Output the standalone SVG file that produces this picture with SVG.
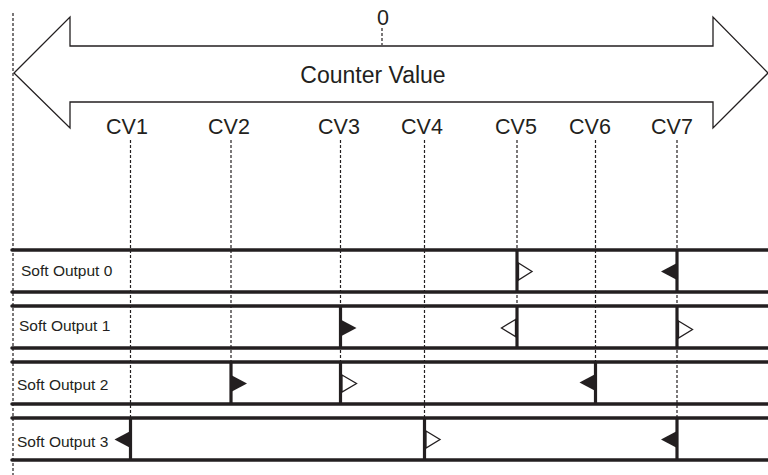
<svg xmlns="http://www.w3.org/2000/svg" width="768" height="475" viewBox="0 0 768 475">
<style>
  text { font-family: "Liberation Sans", Arial, sans-serif; fill: #231f20; }
  .cv { font-size: 21.5px; text-anchor: middle; }
  .lbl { font-size: 15.5px; }
  .dash { stroke: #231f20; stroke-width: 1.2; stroke-dasharray: 3 2; fill: none; }
  .rail { stroke: #231f20; stroke-width: 3.5; stroke-linecap: round; fill: none; }
  .edge { stroke: #231f20; stroke-width: 3.2; fill: none; }
  .ff { fill: #231f20; stroke: none; }
  .fo { fill: #ffffff; stroke: #231f20; stroke-width: 1.3; stroke-linejoin: miter; }
</style>
<rect width="768" height="475" fill="#ffffff"/>

<g id="counter-arrow">
  <polygon points="14,73 70,17 70,46 713,46 713,17 768,73 713,128 713,102 70,102 70,128" fill="#ffffff" stroke="#231f20" stroke-width="1.3" stroke-linejoin="miter"/>
  <text x="383" y="25" class="cv">0</text>
  <line x1="382" y1="28" x2="382" y2="45" class="dash"/>
  <text x="373" y="83" style="font-size:23px;text-anchor:middle">Counter Value</text>
</g>

<g id="cv-labels">
  <text x="127" y="134" class="cv">CV1</text>
  <text x="229" y="134" class="cv">CV2</text>
  <text x="339" y="134" class="cv">CV3</text>
  <text x="422" y="134" class="cv">CV4</text>
  <text x="516" y="134" class="cv">CV5</text>
  <text x="590" y="134" class="cv">CV6</text>
  <text x="672" y="134" class="cv">CV7</text>
</g>

<g id="connectors">
  <line x1="13" y1="13" x2="13" y2="475" class="dash"/>
  <line x1="130.5" y1="140" x2="130.5" y2="418" class="dash"/>
  <line x1="231" y1="140" x2="231" y2="362" class="dash"/>
  <line x1="340.5" y1="140" x2="340.5" y2="404" class="dash"/>
  <line x1="424.5" y1="140" x2="424.5" y2="418" class="dash"/>
  <line x1="517" y1="140" x2="517" y2="348" class="dash"/>
  <line x1="595.5" y1="140" x2="595.5" y2="362" class="dash"/>
  <line x1="677" y1="140" x2="677" y2="460" class="dash"/>
</g>

<g id="soft-output-0">
  <line x1="12" y1="250" x2="768" y2="250" class="rail"/>
  <line x1="12" y1="292" x2="768" y2="292" class="rail"/>
  <text x="21" y="276" class="lbl">Soft Output 0</text>
  <line x1="517" y1="250" x2="517" y2="292" class="edge"/>
  <polygon points="518.5,263 532,271.5 518.5,280" class="fo"/>
  <line x1="677" y1="250" x2="677" y2="292" class="edge"/>
  <polygon points="677,263 661,271.5 677,280" class="ff"/>
</g>

<g id="soft-output-1">
  <line x1="12" y1="306" x2="768" y2="306" class="rail"/>
  <line x1="12" y1="348" x2="768" y2="348" class="rail"/>
  <text x="19" y="331" class="lbl">Soft Output 1</text>
  <line x1="340.5" y1="306" x2="340.5" y2="348" class="edge"/>
  <polygon points="340.5,319.5 356.5,328 340.5,336.5" class="ff"/>
  <line x1="517" y1="306" x2="517" y2="348" class="edge"/>
  <polygon points="515.5,319.5 501.5,328 515.5,336.5" class="fo"/>
  <line x1="677" y1="306" x2="677" y2="348" class="edge"/>
  <polygon points="678.5,321 692.5,329.5 678.5,338" class="fo"/>
</g>

<g id="soft-output-2">
  <line x1="12" y1="362" x2="768" y2="362" class="rail"/>
  <line x1="12" y1="404" x2="768" y2="404" class="rail"/>
  <text x="17" y="390" class="lbl">Soft Output 2</text>
  <line x1="231" y1="362" x2="231" y2="404" class="edge"/>
  <polygon points="231,375 247,383.5 231,392" class="ff"/>
  <line x1="340.5" y1="362" x2="340.5" y2="404" class="edge"/>
  <polygon points="342,375 356.5,383.5 342,392" class="fo"/>
  <line x1="595.5" y1="362" x2="595.5" y2="404" class="edge"/>
  <polygon points="595.5,374 579.5,382.5 595.5,391" class="ff"/>
</g>

<g id="soft-output-3">
  <line x1="12" y1="418" x2="768" y2="418" class="rail"/>
  <line x1="12" y1="460" x2="768" y2="460" class="rail"/>
  <text x="17" y="447" class="lbl">Soft Output 3</text>
  <line x1="130.5" y1="418" x2="130.5" y2="460" class="edge"/>
  <polygon points="130.5,431 114.5,439.5 130.5,448" class="ff"/>
  <line x1="424.5" y1="418" x2="424.5" y2="460" class="edge"/>
  <polygon points="426,431 440,439.5 426,448" class="fo"/>
  <line x1="677" y1="418" x2="677" y2="460" class="edge"/>
  <polygon points="677,431 661,439.5 677,448" class="ff"/>
</g>
</svg>
